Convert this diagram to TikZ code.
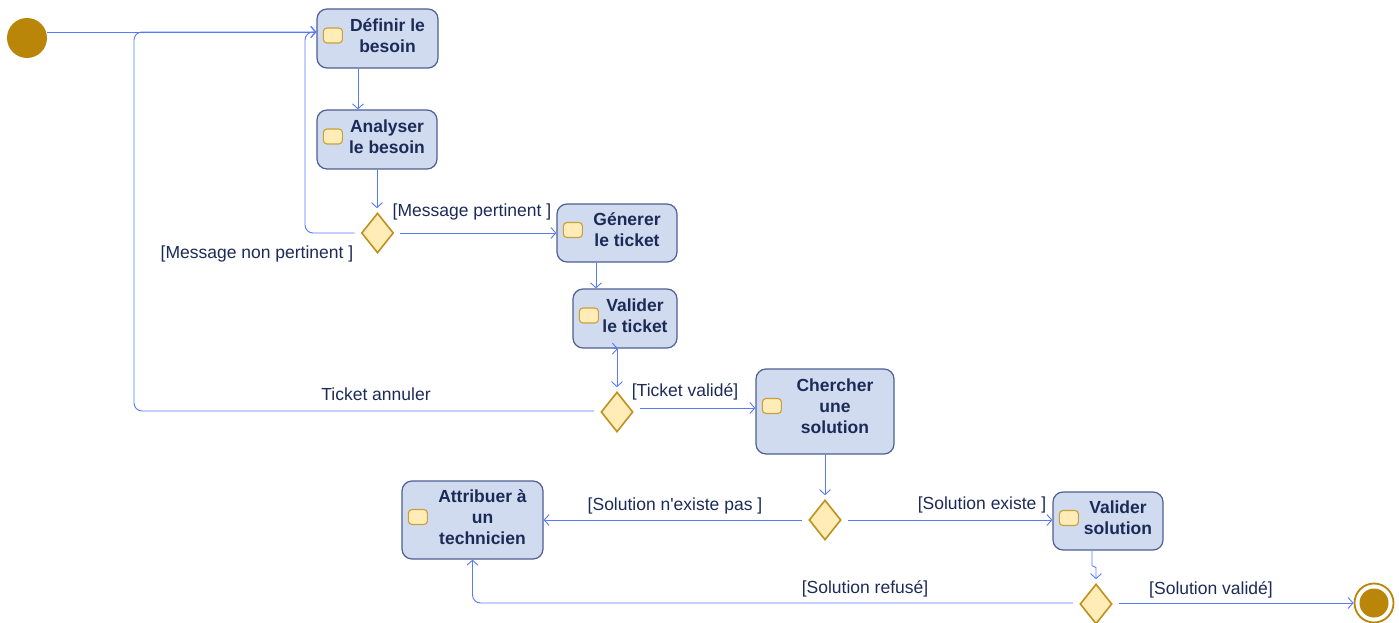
\documentclass[tikz,border=0pt]{standalone}
\usepackage{fontspec}
\setmainfont{Liberation Sans}
\usetikzlibrary{arrows.meta,shapes.geometric,calc}
\definecolor{flowc}{RGB}{88,122,250}
\definecolor{gold}{RGB}{186,134,10}
\definecolor{boxfill}{RGB}{208,219,239}
\definecolor{boxline}{RGB}{78,96,146}
\definecolor{navy}{RGB}{28,42,88}
\definecolor{pale}{RGB}{255,236,182}
\definecolor{paleline}{RGB}{200,160,60}
\definecolor{decline}{RGB}{190,145,30}
\tikzset{
  act/.style={draw=boxline, fill=boxfill, line width=1.2pt, rounded corners=10pt, inner sep=0pt},
  acttext/.style={font=\fontsize{17.5}{21}\selectfont\bfseries, text=navy, align=center, inner sep=0pt},
  icon/.style={draw=paleline, fill=pale, line width=1.1pt, rounded corners=3.5pt, minimum width=19pt, minimum height=15pt, inner sep=0pt},
  decision/.style={diamond, draw=decline, fill=pale, line width=1.6pt, minimum width=32pt, minimum height=40pt, inner sep=0pt},
  flow/.style={draw=flowc, line width=0.9pt, -{Straight Barb[length=5pt,width=11pt]}},
  guard/.style={font=\fontsize{17.5}{21}\selectfont, text=navy, inner sep=0pt},
  fromdec/.style={shorten <=6pt},
  todec/.style={shorten >=4pt},
}
% action box: name, x, y, width, height, text, vertical offset of text and icon
\newcommand\actbox[7]{%
  \node[act, minimum width=#4pt, minimum height=#5pt] (#1) at (#2,#3) {};
  \node[acttext] (#1-t) at ($(#1.center)+(10,#7)$) {#6};
  \node[icon] (#1-i) at ($(#1.west)+(16.5,#7)$) {};
}
\begin{document}
\begin{tikzpicture}[x=1pt,y=-1pt]
\useasboundingbox (0,0) rectangle (1399,623);

% start and end
\node[circle, fill=gold, minimum size=40pt, inner sep=0pt] (start) at (27,38) {};
\node[circle, draw=gold, fill=white, line width=1.8pt, minimum size=39pt, inner sep=0pt] (end) at (1374,603) {};
\node[circle, fill=gold, minimum size=29pt, inner sep=0pt] (endcore) at (end.center) {};

% actions
\actbox{def}{377.5}{38.5}{121}{59}{Définir le\\besoin}{-3}
\actbox{ana}{377}{139.5}{120}{59}{Analyser\\le besoin}{-3}
\actbox{gen}{617}{233}{120}{58}{Génerer\\le ticket}{-3}
\actbox{val}{625}{318.5}{104}{59}{Valider\\le ticket}{-3}
\actbox{cher}{825}{411.5}{138}{85}{Chercher\\une\\solution}{-5.5}
\actbox{attr}{472.5}{520}{141}{78}{Attribuer à\\un\\technicien}{-3}
\actbox{vsol}{1108}{521}{110}{58}{Valider\\solution}{-3}

% decisions
\node[decision] (d1) at (377.5,233) {};
\node[decision] (d2) at (617,412) {};
\node[decision] (d3) at (825,520) {};
\node[decision] (d4) at (1096,604) {};

% helper points
\coordinate (defin) at ($(def.west)+(0,-6.5)$);
\coordinate (loop1) at (305,32);
\coordinate (loop2) at (134,32);
\coordinate (g1) at ($(gen.south)+(-21,0)$);
\coordinate (a1) at ($(def.south)+(-19.5,0)$);
\coordinate (v1) at ($(vsol.south)+(-16,0)$);

% connectors
\draw[flow] (start.east |- defin) -- (defin);
\draw[flow] (a1) -- (a1 |- ana.north);
\draw[flow, todec] (ana.south) -- (ana.south |- d1.north);
\draw[flow, fromdec] (d1.east) -- (d1.east -| gen.west);
\draw[flow, fromdec, rounded corners=8pt] (d1.west) -| (loop1) -- (defin);
\draw[flow] (g1) -- (g1 |- val.north);
\draw[flow, todec] (d2.north |- val.south) -- (d2.north);
\draw[flow] ($(d2.north |- val.south)+(-3,0)$) -- ++(4,0);
\draw[flow, fromdec] ([yshift=4pt]d2.east) -- ([yshift=4pt]d2.east -| cher.west);
\draw[flow, fromdec, rounded corners=8pt] ([yshift=1pt]d2.west) -| (loop2) -- (defin);
\draw[flow, todec] (cher.south) -- (d3.north);
\draw[flow, fromdec] (d3.west) -- (d3.west -| attr.east);
\draw[flow, fromdec] (d3.east) -- (d3.east -| vsol.west);
\draw[flow, todec] (v1) -- ++(0,15) -- ++(4,2) -- (d4.north);
\draw[flow, fromdec] ([yshift=1pt]d4.east) -- ([yshift=1pt]d4.east -| end.west);
\draw[flow, fromdec, rounded corners=8pt] ([yshift=1pt]d4.west) -| (attr.south);

% guards
\node[guard] (g-mp) at (472,212) {[Message pertinent ]};
\node[guard] (g-mnp) at (257,254) {[Message non pertinent ]};
\node[guard] (g-ta) at (376,394) {Ticket annuler};
\node[guard] (g-tv) at (685,392) {[Ticket validé]};
\node[guard] (g-sne) at (675,506) {[Solution n\textquotesingle existe pas ]};
\node[guard] (g-se) at (982,505) {[Solution existe ]};
\node[guard] (g-sr) at (865,589) {[Solution refusé]};
\node[guard] (g-sv) at (1211,590) {[Solution validé]};
\end{tikzpicture}
\end{document}
